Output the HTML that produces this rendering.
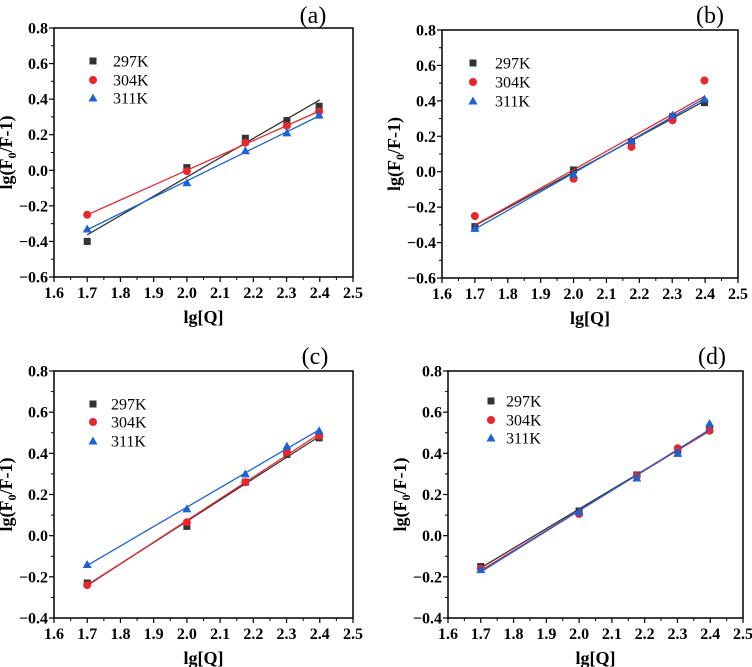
<!DOCTYPE html>
<html><head><meta charset="utf-8"><style>
body{margin:0;background:#fff;}
svg{display:block;font-family:"Liberation Serif",serif;}
</style></head><body>
<svg id="fig" width="752" height="667" viewBox="0 0 752 667"></svg>
<script>
const xVals=[1.7,2.0,2.176,2.301,2.398];
const seriesNames=["297K","304K","311K"];
const seriesColors=["#333333","#e8262b","#1a62d6"];
const aValues=[[-0.40,0.015,0.18,0.28,0.36],[-0.25,-0.005,0.155,0.25,0.33],[-0.33,-0.07,0.11,0.21,0.31]];
const bValues=[[-0.31,0.01,0.17,0.31,0.39],[-0.25,-0.04,0.14,0.29,0.515],[-0.32,-0.015,0.175,0.32,0.41]];
const cValues=[[-0.23,0.045,0.26,0.395,0.475],[-0.24,0.065,0.26,0.405,0.485],[-0.14,0.13,0.30,0.435,0.51]];
const dValues=[[-0.15,0.12,0.295,0.415,0.515],[-0.16,0.105,0.29,0.425,0.51],[-0.165,0.115,0.28,0.40,0.545]];
const xTicks=[1.6,1.7,1.8,1.9,2.0,2.1,2.2,2.3,2.4,2.5];
const yTicksTop=[-0.6,-0.4,-0.2,0.0,0.2,0.4,0.6,0.8];
const yTicksBottom=[-0.4,-0.2,0.0,0.2,0.4,0.6,0.8];

const NS="http://www.w3.org/2000/svg";
const svg=document.getElementById('fig');
function mk(tag,attrs,parent,text){const e=document.createElementNS(NS,tag);for(const k in attrs)e.setAttribute(k,attrs[k]);if(text!==undefined)e.textContent=text;(parent||svg).appendChild(e);return e;}

const panels=[
 {id:"a",L:54,R:353,T:28,B:277,ymin:-0.6,ymax:0.8,yt:yTicksTop,vals:aValues,lx:93,tx:113,ly:[61,80,98],lab:[313,14]},
 {id:"b",L:442,R:738,T:30,B:278,ymin:-0.6,ymax:0.8,yt:yTicksTop,vals:bValues,lx:473,tx:495,ly:[63,82,101],lab:[710,14]},
 {id:"c",L:54,R:353,T:371,B:618,ymin:-0.4,ymax:0.8,yt:yTicksBottom,vals:cValues,lx:93,tx:111,ly:[404,422,441],lab:[315,355]},
 {id:"d",L:448,R:743,T:371,B:618,ymin:-0.4,ymax:0.8,yt:yTicksBottom,vals:dValues,lx:491,tx:506,ly:[401,420,438],lab:[712,355]}
];

panels.forEach(p=>{
 const g=mk('g',{});
 
 
 const xs=v=>p.L+(v-1.6)/(2.5-1.6)*(p.R-p.L);
 const ys=v=>p.B-(v-p.ymin)/(p.ymax-p.ymin)*(p.B-p.T);
 const frame=mk('rect',{x:p.L,y:p.T,width:p.R-p.L,height:p.B-p.T,fill:'none',stroke:'#000','stroke-width':1.5},g);
 
 
 xTicks.forEach((t,i)=>{
  const x=xs(t);
  mk('line',{x1:x,x2:x,y1:p.B,y2:p.B+5,stroke:'#000','stroke-width':1.2},g);
  if(i<xTicks.length-1){const xm=xs(t+0.05);mk('line',{x1:xm,x2:xm,y1:p.B,y2:p.B+3,stroke:'#000','stroke-width':1},g);}
  const tl=mk('text',{x:x,y:p.B+21,'text-anchor':'middle','font-size':16,'font-weight':'bold'},g,t.toFixed(1));
  
  
 });
 p.yt.forEach((t,i)=>{
  const y=ys(t);
  mk('line',{x1:p.L-5,x2:p.L,y1:y,y2:y,stroke:'#000','stroke-width':1.2},g);
  if(i<p.yt.length-1){const ym=ys(t+0.1);mk('line',{x1:p.L-3,x2:p.L,y1:ym,y2:ym,stroke:'#000','stroke-width':1},g);}
  const lbl=(t<0?'\u2212':'')+Math.abs(t).toFixed(1);
  const tl=mk('text',{x:p.L-6,y:y+5.5,'text-anchor':'end','font-size':16,'font-weight':'bold'},g,lbl);
  
  
 });
 const xt=mk('text',{x:(p.L+p.R)/2,y:p.B+46,'text-anchor':'middle','font-size':18,'font-weight':'bold'},g,'lg[Q]');
 
 
 const cy=(p.T+p.B)/2, cx=p.L-42;
 const yt=mk('text',{x:cx,y:cy,'text-anchor':'middle','font-size':18,'font-weight':'bold',transform:`rotate(-90 ${cx} ${cy})`},g);
 
 
 mk('tspan',{},yt,'lg(F');
 mk('tspan',{'font-size':12,dy:4},yt,'0');
 mk('tspan',{dy:-4},yt,'/F-1)');
 const pl=mk('text',{x:p.lab[0],y:p.lab[1]+9,'text-anchor':'middle','font-size':24},g,'('+p.id+')');
 
 
 p.vals.forEach((vals,si)=>{
  const col=seriesColors[si];
  const n=xVals.length;let sx=0,sy=0,sxx=0,sxy=0;
  for(let i=0;i<n;i++){sx+=xVals[i];sy+=vals[i];sxx+=xVals[i]*xVals[i];sxy+=xVals[i]*vals[i];}
  const m=(n*sxy-sx*sy)/(n*sxx-sx*sx), b=(sy-m*sx)/n;
  const fl=mk('line',{x1:xs(1.7),y1:ys(m*1.7+b),x2:xs(2.4),y2:ys(m*2.4+b),stroke:col,'stroke-width':1.3},g);
  
  
  vals.forEach((v,i)=>{
   const x=xs(xVals[i]),y=ys(v);
   let mEl;
   if(si===0) mEl=mk('rect',{x:x-3.5,y:y-3.5,width:7,height:7,fill:col},g);
   else if(si===1) mEl=mk('circle',{cx:x,cy:y,r:4,fill:col},g);
   else mEl=mk('polygon',{points:`${x},${y-4.5} ${x-4.5},${y+3.5} ${x+4.5},${y+3.5}`,fill:col},g);
   
   
  });
  const ly=p.ly[si];
  let lm;
  if(si===0) lm=mk('rect',{x:p.lx-3.5,y:ly-3.5,width:7,height:7,fill:col},g);
  else if(si===1) lm=mk('circle',{cx:p.lx,cy:ly,r:4,fill:col},g);
  else lm=mk('polygon',{points:`${p.lx},${ly-4.5} ${p.lx-4.5},${ly+3.5} ${p.lx+4.5},${ly+3.5}`,fill:col},g);
  
  
  const lt=mk('text',{x:p.tx,y:ly+5.5,'font-size':16},g,seriesNames[si]);
  
  
 });
});
</script>
</body></html>
